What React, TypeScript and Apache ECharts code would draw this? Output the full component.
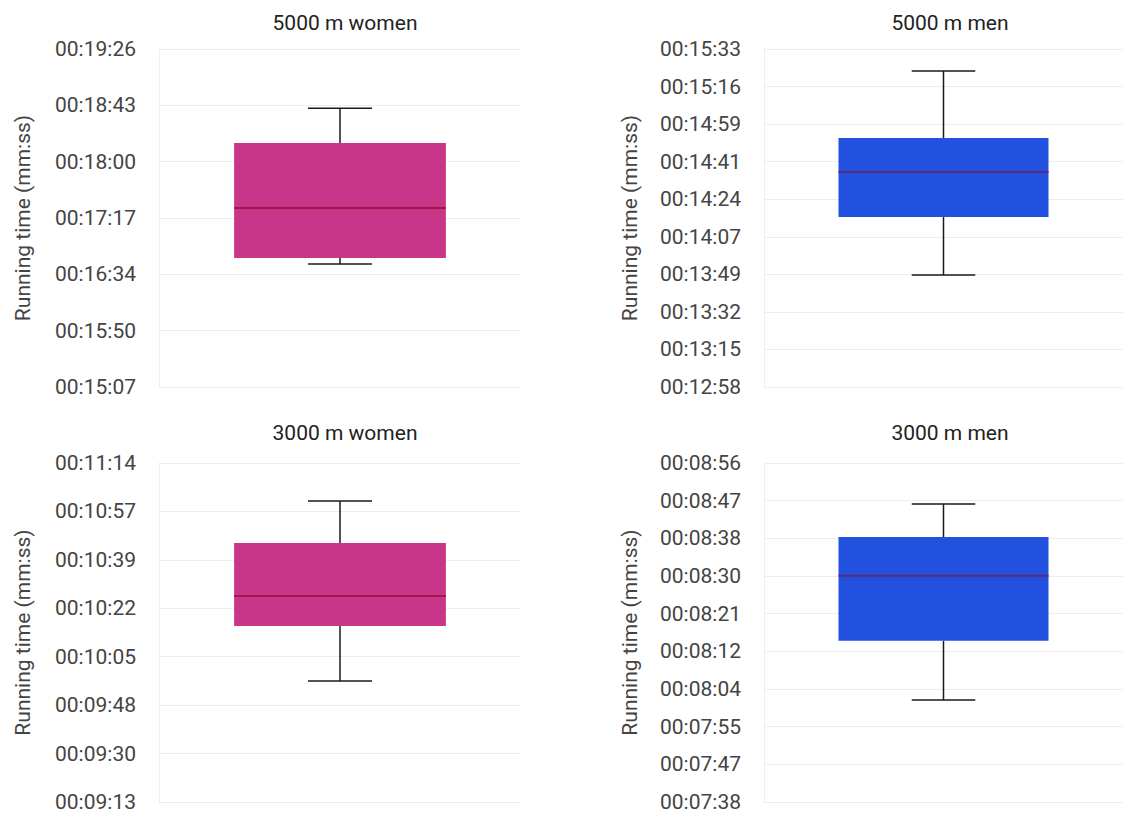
import React, { useEffect, useRef } from "react";
import * as echarts from "echarts";

// Panel titles
const titles = ["5000 m women", "5000 m men", "3000 m women", "3000 m men"];
const categories = ["All"];

// Box statistics in seconds: [low whisker, Q1, median, Q3, high whisker]
const women5000 = [1001.5, 1006.1, 1044.5, 1094.3, 1120.9];
const men5000 = [829.1, 855.8, 876.5, 892.2, 923.0];
const women3000 = [596.1, 615.8, 626.5, 645.4, 660.4];
const men3000 = [481.3, 494.9, 509.8, 518.7, 526.3];

// Axis ranges in seconds (tick interval, first tick in steps, tick steps)
const axisIntervals = [43.2, 17.28, 17.28, 8.64];
const axisMinSteps = [21, 45, 32, 53];
const axisStepCount = [6, 9, 7, 9];

const boxColors = ["#C8368A", "#2251E0", "#C8368A", "#2251E0"];
const medianColors = ["#A3174C", "#5C2A78", "#A3174C", "#5C2A78"];

const fmt = (v: number) => {
  const s = Math.round(v);
  const h = Math.floor(s / 3600);
  const m = Math.floor((s % 3600) / 60);
  const sec = s % 60;
  const p = (n: number) => String(n).padStart(2, "0");
  return `${p(h)}:${p(m)}:${p(sec)}`;
};

export default function App() {
  const ref = useRef<HTMLDivElement>(null);
  useEffect(() => {
    if (!ref.current) return;
    const chart = echarts.init(ref.current, null, { renderer: "svg" });
    const stats = [women5000, men5000, women3000, men3000];
    const lefts = [159, 764, 159, 764];
    const tops = [49, 49, 463, 463];
    const heights = [338, 338, 339, 339];
    const titleTops = [7, 7, 417, 417];
    const nameGaps = [126, 124, 126, 124];
    const gridW = 362;
    const font = "Roboto";

    const grid = stats.map((_, i) => ({
      left: lefts[i],
      top: tops[i],
      width: gridW,
      height: heights[i],
    }));
    const title = titles.map((t, i) => ({
      text: t,
      left: lefts[i] + gridW / 2,
      top: titleTops[i],
      textAlign: "center",
      textStyle: { fontFamily: font, fontSize: 21, fontWeight: "normal", color: "#222" },
    }));
    const xAxis = stats.map((_, i) => ({
      type: "category",
      gridIndex: i,
      data: categories,
      axisLine: { show: false },
      axisTick: { show: false },
      axisLabel: { show: false },
      splitLine: { show: false },
    }));
    const yAxis = stats.map((_, i) => {
      const iv = axisIntervals[i];
      const min = axisMinSteps[i] * iv;
      const max = (axisMinSteps[i] + axisStepCount[i]) * iv;
      return {
        type: "value",
        gridIndex: i,
        min,
        max,
        interval: iv,
        name: "Running time (mm:ss)",
        nameLocation: "middle",
        nameGap: nameGaps[i],
        nameTextStyle: { fontFamily: font, fontSize: 21, color: "#444" },
        axisLine: { show: true, lineStyle: { color: "#EEEEEE", width: 1 } },
        axisTick: { show: false },
        axisLabel: {
          formatter: (v: number) => fmt(v),
          fontFamily: font,
          fontSize: 21,
          color: "#444",
          margin: 23,
        },
        splitLine: { show: true, lineStyle: { color: "#EEEEEE", width: 1 } },
      };
    });
    const series = stats.map((st, i) => ({
      type: "custom",
      xAxisIndex: i,
      yAxisIndex: i,
      encode: { x: 0, y: [1, 2, 3, 4, 5] },
      data: [[0, ...st]],
      renderItem: (params: any, api: any) => {
        const x = api.value(0);
        const lo = api.coord([x, api.value(1)]);
        const q1 = api.coord([x, api.value(2)]);
        const med = api.coord([x, api.value(3)]);
        const q3 = api.coord([x, api.value(4)]);
        const hi = api.coord([x, api.value(5)]);
        const band = api.size([1, 0])[0];
        const bw = band * 0.585;
        const cw = band * 0.177;
        const cx = lo[0];
        const ws = { stroke: "#1a1a1a", lineWidth: 1.5 };
        return {
          type: "group",
          children: [
            { type: "line", shape: { x1: cx, y1: hi[1], x2: cx, y2: q3[1] }, style: ws },
            { type: "line", shape: { x1: cx, y1: q1[1], x2: cx, y2: lo[1] }, style: ws },
            { type: "line", shape: { x1: cx - cw / 2, y1: hi[1], x2: cx + cw / 2, y2: hi[1] }, style: ws },
            { type: "line", shape: { x1: cx - cw / 2, y1: lo[1], x2: cx + cw / 2, y2: lo[1] }, style: ws },
            {
              type: "rect",
              shape: { x: cx - bw / 2, y: q3[1], width: bw, height: q1[1] - q3[1] },
              style: { fill: boxColors[i] },
            },
            {
              type: "line",
              shape: { x1: cx - bw / 2, y1: med[1], x2: cx + bw / 2, y2: med[1] },
              style: { stroke: medianColors[i], lineWidth: 2 },
            },
          ],
        };
      },
    }));

    chart.setOption({
      animation: false,
      backgroundColor: "#fff",
      title,
      grid,
      xAxis,
      yAxis,
      series,
    } as any);
    return () => chart.dispose();
  }, []);
  return (
    <div
      ref={ref}
      style={{ position: "fixed", left: 0, top: 0, width: 1123, height: 816 }}
    />
  );
}
